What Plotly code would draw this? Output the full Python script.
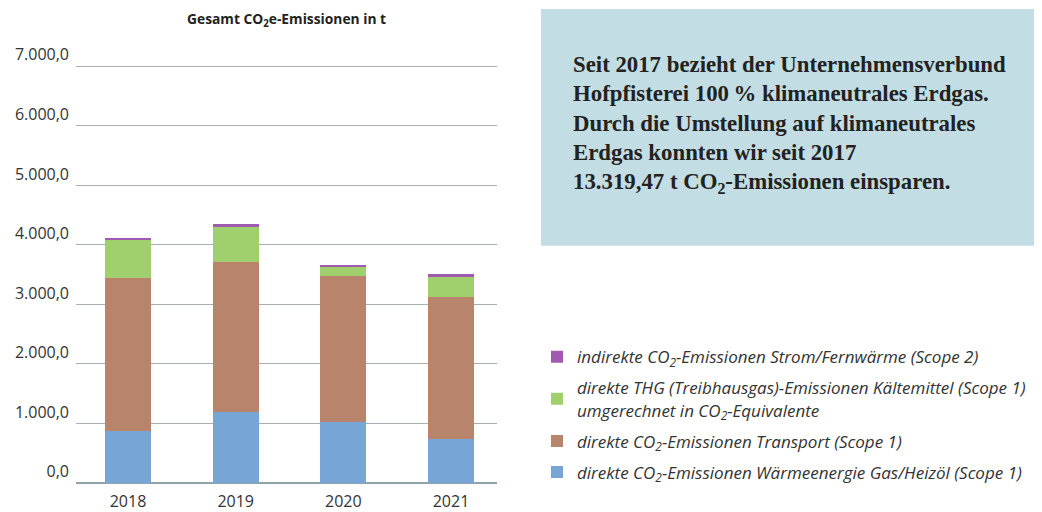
import plotly.graph_objects as go

years = ["2018", "2019", "2020", "2021"]
waerme = [870, 1200, 1032, 741]
transport = [2578, 2516, 2450, 2388]
kaelte = [637, 588, 151, 336]
strom = [34, 50, 33, 50]

series_names = [
    "<i>direkte CO<sub>2</sub>-Emissionen Wärmeenergie Gas/Heizöl (Scope 1)</i>",
    "<i>direkte CO<sub>2</sub>-Emissionen Transport (Scope 1)</i>",
    "<i>direkte THG (Treibhausgas)-Emissionen Kältemittel (Scope 1)<br>umgerechnet in CO<sub>2</sub>-Equivalente</i>",
    "<i>indirekte CO<sub>2</sub>-Emissionen Strom/Fernwärme (Scope 2)</i>",
]
series_values = [waerme, transport, kaelte, strom]
colors = ["#76a5d6", "#b8846c", "#a0cf6e", "#a05bb0"]

tick_vals = [0, 1000, 2000, 3000, 4000, 5000, 6000, 7000]

info_lines = [
    "Seit 2017 bezieht der Unternehmensverbund",
    "Hofpfisterei 100\u202f% klimaneutrales Erdgas.",
    "Durch die Umstellung auf klimaneutrales",
    "Erdgas konnten wir seit 2017",
    "13.319,47 t CO<sub>2</sub>-Emissionen einsparen.",
]

OFF = 8  # page body margin
W, H = 1042 - OFF, 512 - OFF
L, R = 76 - OFF, 497 - OFF
T, B = 65 - OFF, 483.5 - OFF


def px2x(px):
    return (px - OFF - L) / (R - L)


def px2y(py):
    return (B - (py - OFF)) / (B - T)


fig = go.Figure()
n = len(series_names)
for i, (name, vals, col) in enumerate(zip(series_names, series_values, colors)):
    fig.add_trace(go.Bar(x=years, y=vals, name=name, marker_color=col,
                         marker_line_width=0, legendrank=n - i, legendgroup=f"g{i}"))

annotations = [
    dict(text="<b>Gesamt CO<sub>2</sub>e-Emissionen in t</b>", x=0.5, y=px2y(19),
         xref="paper", yref="paper", showarrow=False, xanchor="center", yanchor="middle",
         font=dict(family="Open Sans", size=13.8, color="#222222")),
]
for k, line in enumerate(info_lines):
    annotations.append(dict(
        text=f"<b>{line}</b>", x=px2x(571), y=px2y(64 + k * 29.7), xref="paper", yref="paper",
        showarrow=False, xanchor="left", yanchor="middle", align="left",
        font=dict(family="Liberation Serif", size=22.8, color="#222222")))

fig.update_layout(
    width=W, height=H,
    margin=dict(l=L, r=W - R, t=T, b=H - B, pad=0, autoexpand=False),
    paper_bgcolor="white", plot_bgcolor="white",
    barmode="stack", bargap=0.573,
    separators=",.",
    font=dict(family="Open Sans", color="#333333"),
    showlegend=True,
    legend=dict(x=px2x(537), y=px2y(339.5), xref="paper", yref="paper",
                xanchor="left", yanchor="top", traceorder="grouped", tracegroupgap=6,
                bgcolor="rgba(0,0,0,0)",
                font=dict(family="Open Sans", size=17, color="#333333")),
    xaxis=dict(range=[-0.483, 3.427], showgrid=False, showline=False, ticks="",
               automargin=False, ticklabelstandoff=7,
               tickfont=dict(size=16, color="#333333")),
    yaxis=dict(range=[0, 7017], tickvals=tick_vals, tickformat=",.1f",
               showgrid=True, gridcolor="#a6b0b4", gridwidth=1.3,
               zeroline=True, zerolinecolor="#8fa3ad", zerolinewidth=1.5,
               showline=False, ticks="", ticklabelstandoff=6, automargin=False,
               ticklabelposition="outside top",
               tickfont=dict(size=16, color="#333333")),
    shapes=[dict(type="rect", xref="paper", yref="paper",
                 x0=px2x(541), x1=px2x(1042), y0=px2y(246), y1=px2y(9),
                 fillcolor="#c2dde3", line_width=0, layer="below")],
    annotations=annotations,
)

fig.write_html("out.html")
